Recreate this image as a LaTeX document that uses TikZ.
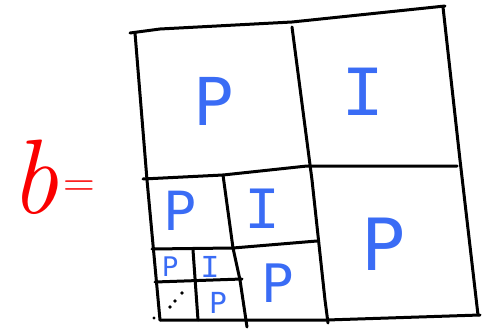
\documentclass[tikz,border=0pt]{standalone}
\usepackage{fontspec}
\newfontfamily\lett{DejaVu Sans}
\newfontfamily\lettI{Liberation Mono}
\definecolor{penblue}{RGB}{58,108,245}
\definecolor{penred}{RGB}{250,0,0}
\tikzset{
  pen/.style={line width=3pt, line cap=round, line join=round, black},
  lab/.style={inner sep=0pt, anchor=center, text=penblue},
}
\newcommand{\fs}[1]{\fontsize{#1}{#1}\selectfont\lett}
\newcommand{\fsI}[1]{\fontsize{#1}{#1}\selectfont\lettI}
\begin{document}
\begin{tikzpicture}[x=1pt,y=-1pt]
\useasboundingbox (0,0) rectangle (482,329);
% outer frame
\draw[pen] (130,33) -- (160,29) -- (292,22) -- (445,6);
\draw[pen] (135,33) -- (147,180) -- (160,320);
\draw[pen] (443,7) -- (460,160) -- (478,315);
\draw[pen] (160,320) -- (247,320) -- (327,320) -- (480,315);
% first level
\draw[pen] (143,179) -- (223,175) -- (307,166) -- (457,166);
\draw[pen] (292,27) -- (312,180) -- (325,300) -- (328,323);
% second level
\draw[pen] (152,249) -- (233,248) -- (317,241);
\draw[pen] (223,175) -- (233,248) -- (240,280) -- (247,327);
% third level
\draw[pen] (155,282) -- (242,279);
\draw[pen] (193,250) -- (198,320);
% dots
\fill (154,318) circle (1.7pt);
\fill (170,307) circle (1.8pt);
\fill (175,301) circle (1.8pt);
\fill (182,293) circle (1.8pt);
% labels
\node[lab] (p1) at (213,101) {\fs{66}P};
\node[lab] (i1) at (363,92) {\fsI{72}I};
\node[lab] (p2) at (383,244) {\fs{72}P};
\node[lab] (p3) at (180,211) {\fs{54}P};
\node[lab] (i2) at (263,209) {\fsI{60}I};
\node[lab] (p4) at (277,283) {\fs{53}P};
\node[lab] (p5) at (170,267) {\fs{27}P};
\node[lab] (i3) at (210,267) {\fsI{32}I};
\node[lab] (p6) at (218,303) {\fs{29}P};
% red b =
\node[inner sep=0pt, anchor=base, text=penred] (b) at (34,213) {\fontsize{106}{106}\selectfont\itshape b};
\node[inner sep=0pt, text=penred] (eq) at (79,189) {\fontsize{44}{44}\selectfont =};
\end{tikzpicture}
\end{document}
